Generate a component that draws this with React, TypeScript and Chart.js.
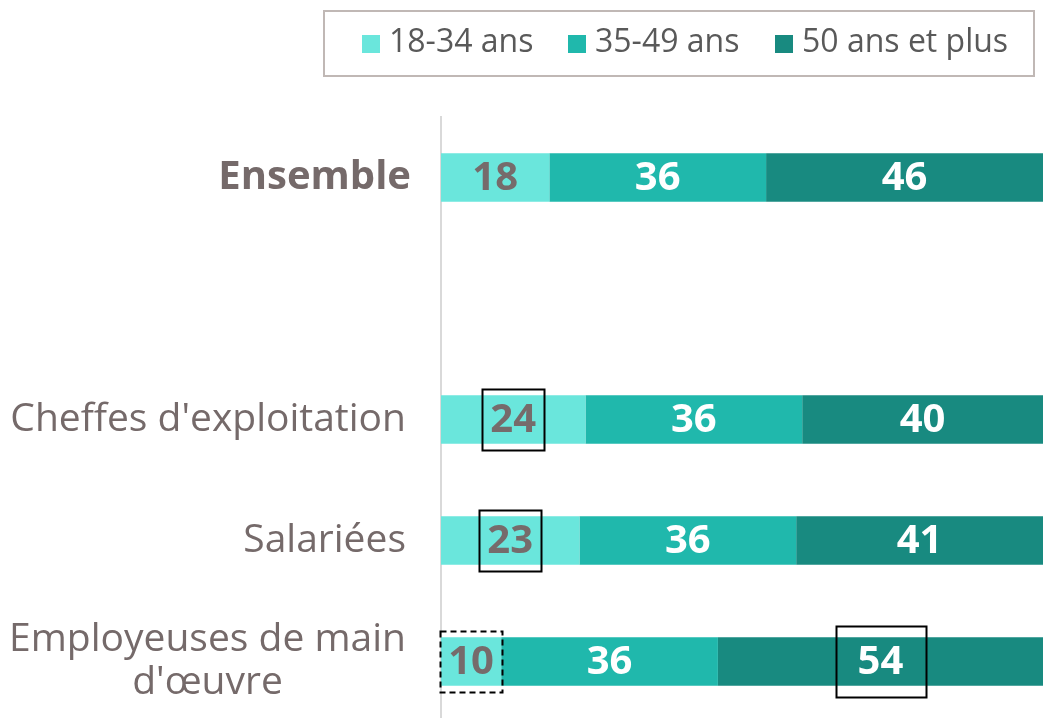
import React, { useEffect, useRef } from "react";
import { Chart, registerables } from "chart.js";

Chart.register(...registerables);

const categories: string[][] = [["Ensemble"], [""], ["Cheffes d'exploitation"], ["Salariées"], ["Employeuses de main", "d'œuvre"]];
const seriesNames = ["18-34 ans", "35-49 ans", "50 ans et plus"];
const young = [18, null, 24, 23, 10];
const middle = [36, null, 36, 36, 36];
const older = [46, null, 40, 41, 54];
const colors = ["#6ae6dc", "#20b8ac", "#188a80"];
const labelColors = ["#766b6b", "#ffffff", "#ffffff"];
const boldCategory = [true, false, false, false, false];
// highlighted values: [datasetIndex, categoryIndex, dashed]
const highlights: [number, number, boolean][] = [
  [0, 2, false],
  [0, 3, false],
  [0, 4, true],
  [2, 4, false],
];

const FONT = "'Open Sans', 'DejaVu Sans', sans-serif";
const GRAY = "#756a6a";

const customPlugin = {
  id: "custom",
  afterDatasetsDraw(chart: any) {
    const ctx = chart.ctx;
    const yScale = chart.scales.y;
    ctx.save();
    // value labels
    ctx.textAlign = "center";
    ctx.textBaseline = "middle";
    ctx.font = `bold 40px ${FONT}`;
    chart.data.datasets.forEach((ds: any, di: number) => {
      const meta = chart.getDatasetMeta(di);
      meta.data.forEach((el: any, i: number) => {
        const v = ds.data[i];
        if (v == null) return;
        const cx = (el.x + el.base) / 2;
        ctx.fillStyle = labelColors[di];
        ctx.fillText(String(v), cx, el.y + 1);
      });
    });
    // highlight boxes
    ctx.strokeStyle = "#000000";
    ctx.lineWidth = 2;
    highlights.forEach(([di, i, dashed]) => {
      const el = chart.getDatasetMeta(di).data[i];
      const v = chart.data.datasets[di].data[i];
      const tw = ctx.measureText(String(v)).width;
      const cx = (el.x + el.base) / 2;
      const w = tw + (di === 2 ? 44 : 16);
      const h = di === 2 ? 71 : 61;
      ctx.setLineDash(dashed ? [6, 4] : []);
      ctx.strokeRect(Math.round(cx - w / 2) + 0.5, Math.round(el.y - h / 2) + 0.5, Math.round(w), h);
    });
    ctx.setLineDash([]);
    // category labels
    categories.forEach((lines, i) => {
      const y = yScale.getPixelForValue(i);
      const bold = boldCategory[i];
      ctx.fillStyle = GRAY;
      ctx.font = bold ? `bold 40px ${FONT}` : `39px ${FONT}`;
      const right = bold ? 411 : 406;
      if (lines.length === 1) {
        ctx.textAlign = "right";
        ctx.fillText(lines[0], right, y);
      } else {
        const widths = lines.map((l) => ctx.measureText(l).width);
        const maxW = Math.max(...widths);
        const center = right - maxW / 2;
        ctx.textAlign = "center";
        const lh = 43;
        lines.forEach((l, k) => {
          ctx.fillText(l, center, y + (k - (lines.length - 1) / 2) * lh);
        });
      }
    });
    // legend
    ctx.strokeStyle = "#c0b8b5";
    ctx.lineWidth = 2;
    ctx.strokeRect(324, 11, 710, 65);
    const squareX = [362, 568, 775];
    ctx.font = `32px ${FONT}`;
    ctx.textAlign = "left";
    ctx.textBaseline = "middle";
    seriesNames.forEach((name, k) => {
      ctx.fillStyle = colors[k];
      ctx.fillRect(squareX[k], 35, 18, 18);
      ctx.fillStyle = "#595959";
      ctx.fillText(name, squareX[k] + 27, 43);
    });
    ctx.restore();
  },
};

export default function App() {
  const ref = useRef<HTMLCanvasElement | null>(null);
  useEffect(() => {
    if (!ref.current) return;
    const chart = new Chart(ref.current, {
      type: "bar",
      data: {
        labels: categories.map((c) => c.join(" ")),
        datasets: [
          { label: seriesNames[0], data: young, backgroundColor: colors[0] },
          { label: seriesNames[1], data: middle, backgroundColor: colors[1] },
          { label: seriesNames[2], data: older, backgroundColor: colors[2] },
        ],
      },
      options: {
        indexAxis: "y",
        responsive: false,
        animation: false,
        devicePixelRatio: 1,
        layout: { padding: { top: 117, left: 0, right: 0, bottom: 0 } },
        datasets: { bar: { barPercentage: 0.4, categoryPercentage: 1 } },
        plugins: { legend: { display: false }, tooltip: { enabled: false } },
        scales: {
          x: { stacked: true, display: false, min: 0, max: 100 },
          y: {
            stacked: true,
            grid: { display: false },
            border: { display: true, color: "#d9d9d9", width: 2 },
            ticks: { display: false },
            afterFit: (s: any) => {
              s.width = 441;
            },
          },
        },
      },
      plugins: [customPlugin],
    } as any);
    return () => chart.destroy();
  }, []);
  return (
    <div style={{ position: "absolute", left: 0, top: 0, width: 1043, height: 718, overflow: "hidden", background: "#fff" }}>
      <canvas ref={ref} width={1043} height={722} />
    </div>
  );
}
